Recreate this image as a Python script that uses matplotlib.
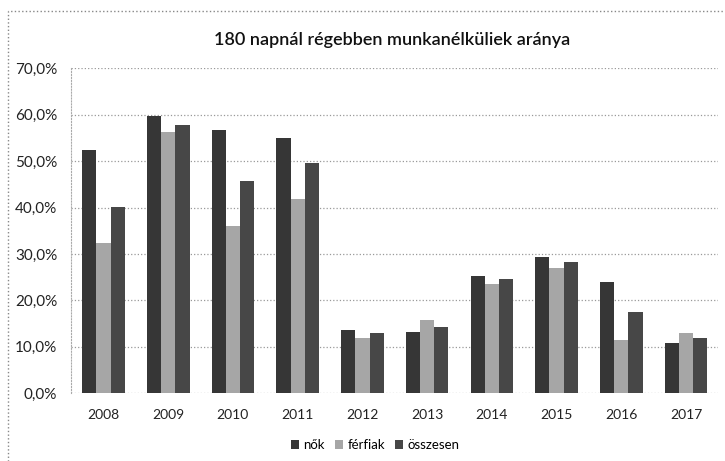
import matplotlib.pyplot as plt
import numpy as np
from matplotlib.patches import Rectangle
from matplotlib.ticker import FuncFormatter

years = ['2008', '2009', '2010', '2011', '2012', '2013', '2014', '2015', '2016', '2017']
nok = [52.3, 59.7, 56.7, 54.9, 13.7, 13.1, 25.3, 29.4, 24.0, 10.9]
ferfiak = [32.4, 56.2, 36.0, 41.9, 11.8, 15.7, 23.6, 27.0, 11.4, 12.9]
osszesen = [40.1, 57.7, 45.7, 49.6, 12.9, 14.2, 24.7, 28.3, 17.6, 11.8]

plt.rcParams['font.family'] = ['Lato', 'DejaVu Sans']

fig = plt.figure(figsize=(7.25, 4.61), dpi=100, facecolor='white')
ax = fig.add_axes([0.098, 0.147, 0.893, 0.705])

x = np.arange(len(years))
w = 0.22
ax.bar(x - w, nok, w, color='#363636', label='nők', zorder=3)
ax.bar(x, ferfiak, w, color='#a6a6a6', label='férfiak', zorder=3)
ax.bar(x + w, osszesen, w, color='#474747', label='összesen', zorder=3)

ax.set_ylim(0, 70)
ax.set_xlim(-0.5, len(years) - 0.5)
ax.set_yticks(np.arange(0, 71, 10))
ax.yaxis.set_major_formatter(FuncFormatter(lambda v, p: f"{v:.1f}%".replace('.', ',')))
ax.set_xticks(x)
ax.set_xticklabels(years)
ax.tick_params(axis='y', length=0, labelsize=11, colors='#222222', pad=10)
ax.tick_params(axis='x', length=0, labelsize=10, colors='#222222', pad=11)
ax.grid(axis='y', color='#999999', linestyle=':', linewidth=0.9, zorder=0)
for s in ['top', 'right', 'bottom']:
    ax.spines[s].set_visible(False)
ax.spines['left'].set_color('#aaaaaa')
ax.spines['left'].set_linestyle(':')

fig.text(0.541, 0.913, '180 napnál régebben munkanélküliek aránya', ha='center', va='center',
         fontsize=13, fontweight='semibold', color='#111111')

ax.legend(loc='upper center', bbox_to_anchor=(0.47, -0.105), ncol=3, frameon=False,
          fontsize=9.5, handlelength=0.6, handleheight=0.6, handletextpad=0.3, columnspacing=0.8)

# dotted border of the chart area
fig.patches.append(Rectangle((0.011, -0.05), 1.05, 1.026, transform=fig.transFigure,
                             fill=False, edgecolor='#888888', linestyle=':', linewidth=1.0))

plt.savefig('out.png', dpi=100, facecolor='white')
